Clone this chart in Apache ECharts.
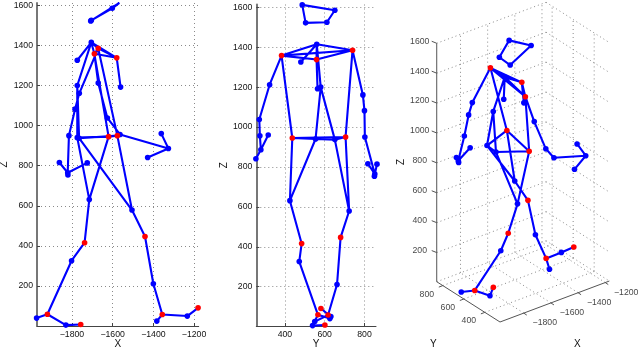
<!DOCTYPE html>
<html><head><meta charset="utf-8">
<style>html,body{margin:0;padding:0;background:#fff}#c{width:640px;height:349px}</style>
<script src="https://cdn.jsdelivr.net/npm/echarts@6/dist/echarts.min.js"></script>
</head><body><div id="c"></div>
<script>
// ---- data ----
const jointNames = ['top','shA','shB','chest','nose','spA','spB','hipL','hipR','pelA','pelB','thL','thR',
 'kneeL','shinL','ankL','toeL1','toeL2','toeL3','kneeR','shinR','ankR','heelR','toeR1','toeR2',
 'armA1','armA2','armA3','armA4','armA5','armA6','armA7','armB1','armB2','armB3','armB4','armB5','armB6',
 'head1','head2','head3','head4'];
const jointX = [-1705,-1671,-1690,-1580,-1774,-1561,-1774,-1620,-1577,-1774,-1765,-1715,-1505,
 -1738,-1802,-1921,-1974,-1830,-1757,-1441,-1400,-1356,-1383,-1233,-1180,
 -1764,-1785,-1815,-1821,-1862,-1725,-1820,-1671,-1626,-1564,-1326,-1428,-1361,
 -1567,-1602,-1708,-1705];
const jointY = [560,740,383,559,480,564,580,437,705,554,651,425,723,
 484,472,566,626,539,601,680,662,617,550,631,581,
 792,800,802,852,817,863,850,323,271,274,279,254,316,
 487,651,504,611];
const jointZ = [1415,1385,1358,1338,1326,1192,1200,945,950,940,937,631,579,
 416,326,59,40,5,8,447,211,58,25,50,91,
 1161,1082,950,765,816,814,754,1212,1038,956,886,841,960,
 1612,1585,1522,1525];
const redJoints = ['shA','shB','chest','hipL','hipR','kneeL','kneeR','ankL','ankR','toeL3','toeR2'];
const bones = [['top','shA'],['top','shB'],['top','chest'],['top','nose'],['top','spB'],['shA','shB'],['shA','chest'],['shB','chest'],
 ['chest','spA'],['spB','pelA'],['spB','pelB'],['shA','hipR'],['shB','hipL'],['hipL','hipR'],['hipL','pelA'],['hipR','pelB'],['pelA','pelB'],
 ['hipL','thL'],['pelA','thL'],['hipR','thR'],['pelB','thR'],['thL','kneeL'],['kneeL','shinL'],['shinL','ankL'],['ankL','toeL1'],['ankL','toeL2'],['toeL2','toeL3'],
 ['thR','kneeR'],['kneeR','shinR'],['shinR','ankR'],['ankR','heelR'],['ankR','toeR1'],['toeR1','toeR2'],
 ['shA','armA1'],['armA1','armA2'],['armA2','armA3'],['armA3','armA4'],['armA4','armA5'],['armA4','armA6'],['armA4','armA7'],
 ['shB','armB1'],['armB1','armB2'],['armB2','armB3'],['armB3','armB4'],['armB4','armB5'],['armB4','armB6'],
 ['head1','head2'],['head2','head4'],['head4','head3'],['head3','head1']];
const xTicks = [-1800,-1600,-1400,-1200];
const yTicks = [400,600,800];
const zTicks = [200,400,600,800,1000,1200,1400,1600];

// ---- style / layout ----
const BLUE='#0000ff', RED='#ff0000', FONT='Liberation Sans', FS=8.7, TXT='#111';
const idx = n => jointNames.indexOf(n);
const fmt = v => String(v).replace('-','\u2212');

// 3D view used by the third panel (orthographic projection into page pixels)
const XMIN=-1975, XMAX=-1170, YMIN=256, YMAX=858, ZMIN=5, ZMAX=1600;
const proj = (x,y,z) => [500+(x-XMIN)*0.1358-(y-YMIN)*0.1051, 322-(x-XMIN)*0.0509-(y-YMIN)*0.0669-(z-ZMIN)*0.1495];

function boneLine(pick){
  const out=[];
  bones.forEach(([a,b])=>{out.push(pick(idx(a)),pick(idx(b)),[null,null]);});
  return out;
}
const isRed = i => redJoints.includes(jointNames[i]);
function skeletonSeries(xi,yi,pick,zLimit){
  // a marker whose centre lies above the axis limit is not drawn
  const pts = jointNames.map((_,i)=>i).filter(i=>jointZ[i]<=zLimit);
  return [
   {type:'line',xAxisIndex:xi,yAxisIndex:yi,data:boneLine(pick),showSymbol:false,connectNulls:false,clip:false,silent:true,animation:false,
    lineStyle:{color:BLUE,width:2.1},z:3},
   {type:'scatter',xAxisIndex:xi,yAxisIndex:yi,data:pts.filter(i=>!isRed(i)).map(pick),symbolSize:5.6,clip:false,silent:true,animation:false,itemStyle:{color:BLUE,opacity:1},z:4},
   {type:'scatter',xAxisIndex:xi,yAxisIndex:yi,data:pts.filter(isRed).map(pick),symbolSize:5.6,clip:false,silent:true,animation:false,itemStyle:{color:RED,opacity:1},z:5}
  ];
}
function cartAxis(gridIndex,pos,min,max,ticks,name,gap){
  return {type:'value',gridIndex,position:pos,min,max,name,nameLocation:'middle',nameGap:gap,nameMoveOverlap:false,
    nameTextStyle:{fontFamily:FONT,fontSize:10,color:TXT},
    axisLine:{show:true,onZero:false,lineStyle:pos==='left'?{color:'#777',width:2}:{color:'#444',width:1}},
    axisTick:{show:true,inside:true,length:3,customValues:ticks,lineStyle:{color:'#444',width:1}},
    axisLabel:{show:true,customValues:ticks,margin:4,fontFamily:FONT,fontSize:FS,color:TXT,formatter:fmt,hideOverlap:false},
    splitLine:{show:true,lineStyle:{color:'#8a8a8a',width:1,type:[1,3]}}};
}

// third-panel guides
function seg(list,a,b){list.push(proj(...a),proj(...b),[null,null]);}
const dotted=[];
xTicks.forEach(x=>{seg(dotted,[x,YMIN,ZMIN],[x,YMAX,ZMIN]);seg(dotted,[x,YMAX,ZMIN],[x,YMAX,ZMAX]);});
yTicks.forEach(y=>{seg(dotted,[XMIN,y,ZMIN],[XMAX,y,ZMIN]);seg(dotted,[XMAX,y,ZMIN],[XMAX,y,ZMAX]);});
zTicks.forEach(z=>{seg(dotted,[XMIN,YMAX,z],[XMAX,YMAX,z]);seg(dotted,[XMAX,YMAX,z],[XMAX,YMIN,z]);});
seg(dotted,[XMIN,YMAX,ZMIN],[XMAX,YMAX,ZMIN]);seg(dotted,[XMAX,YMAX,ZMIN],[XMAX,YMIN,ZMIN]);
const frame=[];
seg(frame,[XMIN,YMAX,ZMIN],[XMIN,YMAX,ZMAX]);seg(frame,[XMIN,YMAX,ZMIN],[XMIN,YMIN,ZMIN]);seg(frame,[XMIN,YMIN,ZMIN],[XMAX,YMIN,ZMIN]);
const off=(p,dx,dy)=>[p[0]+dx,p[1]+dy];
const tickLine=(p,dx,dy,l)=>{l.push(p,off(p,dx,dy),[null,null]);};
const labels=[];
zTicks.forEach(z=>{const p=proj(XMIN,YMAX,z);tickLine(p,-5,-2,frame);labels.push([...off(p,-17,-2),String(z)]);});
yTicks.forEach(y=>{const p=proj(XMIN,y,ZMIN);tickLine(p,-4,1.5,frame);labels.push([...off(p,-16,8.5),String(y)]);});
xTicks.forEach(x=>{const p=proj(x,YMIN,ZMIN);tickLine(p,3,2,frame);labels.push([...off(p,21,10),fmt(x)]);});

const chart = echarts.init(document.getElementById('c'),null,{renderer:'canvas'});
chart.setOption({
  animation:false,
  backgroundColor:'#fff',
  grid:[
   {left:37,top:3,width:161.7,height:323,outerBoundsMode:'none'},
   {left:256.3,top:4.5,width:119.7,height:321.5,outerBoundsMode:'none'},
   {left:0,top:0,width:640,height:349,outerBoundsMode:'none'}
  ],
  xAxis:[
   cartAxis(0,'bottom',-1972,-1177,xTicks,'X',13.5),
   cartAxis(1,'bottom',256,858,yTicks,'Y',13.5),
   {type:'value',gridIndex:2,min:0,max:640,show:false}
  ],
  yAxis:[
   cartAxis(0,'left',0.5,1611.5,zTicks,'Z',27.5),
   cartAxis(1,'left',3,1614,zTicks,'Z',26.8),
   {type:'value',gridIndex:2,min:0,max:349,inverse:true,show:false}
  ],
  graphic:[
   {type:'text',left:430,top:339.5,style:{text:'Y',fontFamily:FONT,fontSize:10,fill:TXT}},
   {type:'text',left:574,top:339.5,style:{text:'X',fontFamily:FONT,fontSize:10,fill:TXT}},
   {type:'text',x:401,y:162,rotation:Math.PI/2,style:{text:'Z',fontFamily:FONT,fontSize:10,fill:TXT,align:'center',verticalAlign:'middle'}}
  ],
  series:[
   ...skeletonSeries(0,0,i=>[jointX[i],jointZ[i]],1611.5),
   ...skeletonSeries(1,1,i=>[jointY[i],jointZ[i]],1614),
   {type:'line',xAxisIndex:2,yAxisIndex:2,data:dotted,showSymbol:false,silent:true,animation:false,lineStyle:{color:'#8a8a8a',width:1,type:[1,3]},z:1},
   {type:'line',xAxisIndex:2,yAxisIndex:2,data:frame,showSymbol:false,silent:true,animation:false,lineStyle:{color:'#555',width:1},z:2},
   {type:'scatter',xAxisIndex:2,yAxisIndex:2,data:labels,symbolSize:0,silent:true,animation:false,
    label:{show:true,position:'inside',formatter:p=>p.data[2],fontFamily:FONT,fontSize:FS,color:TXT},z:2},
   ...skeletonSeries(2,2,i=>proj(jointX[i],jointY[i],jointZ[i]),Infinity)
  ]
});
</script></body></html>
